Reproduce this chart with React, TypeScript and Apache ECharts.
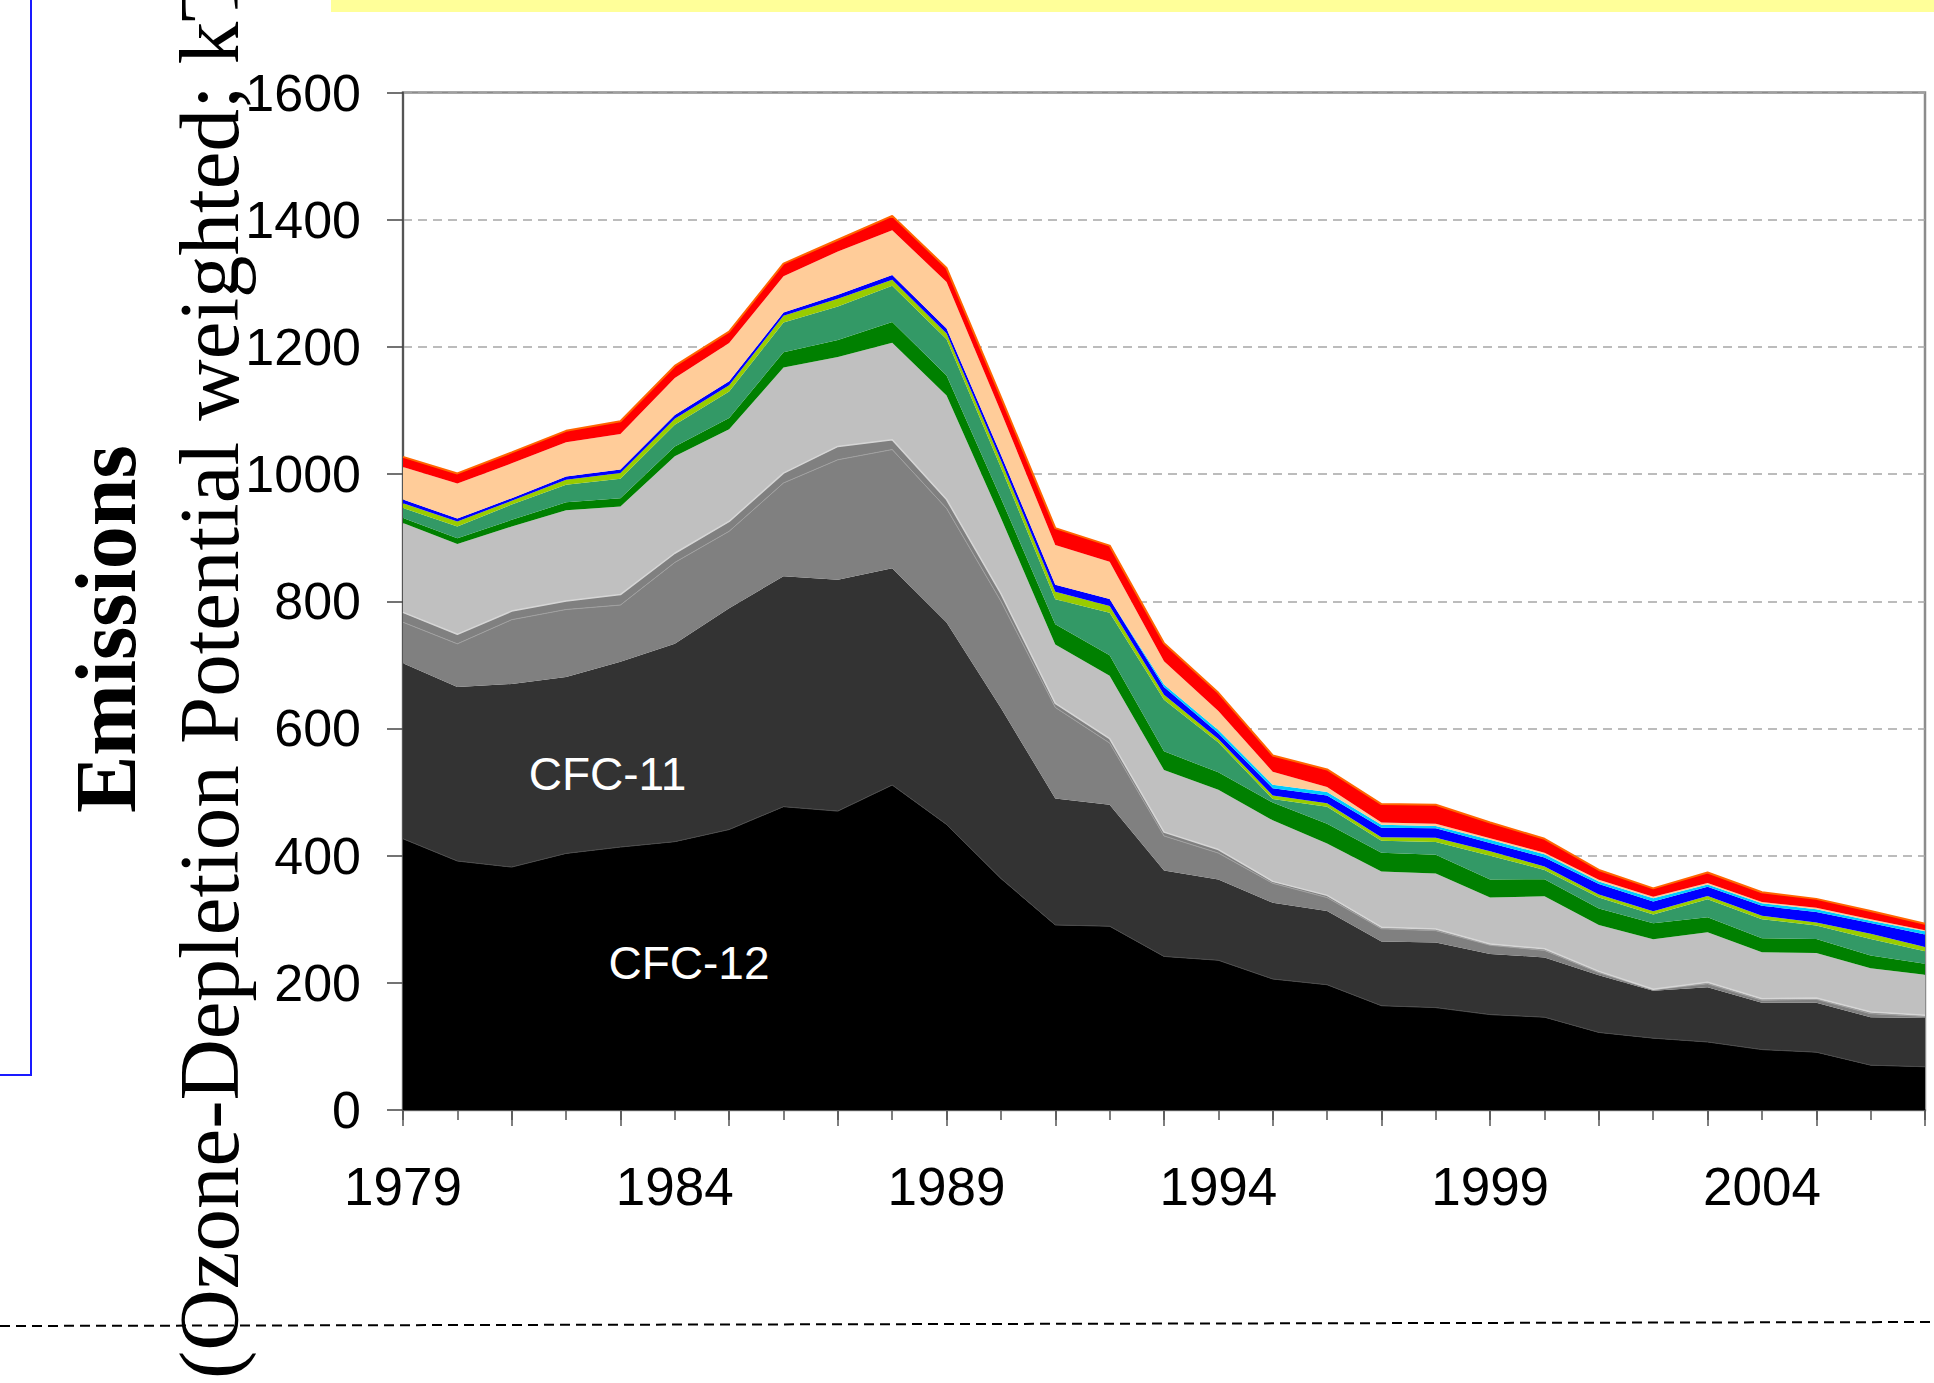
import React, { useEffect, useRef } from "react";
import * as echarts from "echarts";

const years = [
  "1979", "1980", "1981", "1982", "1983", "1984", "1985", "1986", "1987", "1988",
  "1989", "1990", "1991", "1992", "1993", "1994", "1995", "1996", "1997", "1998",
  "1999", "2000", "2001", "2002", "2003", "2004", "2005", "2006", "2007",
];

// ODP-weighted emissions (kT), stacked bottom to top
const cfc12 = [426.5, 391.5, 382, 403.5, 413.5, 422, 441, 477, 470, 511, 449, 364, 291, 289, 241.5, 235.5, 206, 197, 164, 161, 150, 146, 122, 113, 107, 95, 91, 70.5, 68];
const cfc11 = [276, 273.5, 288, 277.5, 291.5, 311, 348, 362.5, 364, 341, 317.5, 268, 199, 191, 135, 127, 120, 116, 101, 102.5, 95.5, 94, 90, 74.5, 86, 73.5, 77.5, 75.5, 76.5];
const cfc113 = [64.5, 68, 101, 106, 89, 128, 121, 146.5, 188.5, 186.5, 179.5, 168, 143, 97, 54.5, 41.5, 30.5, 21, 20, 18.5, 13.5, 11, 4, 1.5, 5.5, 4, 5.5, 5.5, 2.5];
const cfc114 = [15.5, 15, 13.5, 13.5, 16.5, 14.5, 15.5, 15.5, 21, 15.5, 14, 12, 6.5, 7, 6, 5.5, 3, 3.5, 2.5, 2.5, 2, 2.5, 2, 1, 2.5, 2.5, 2, 2.5, 2];
const ccl4 = [140.5, 142, 133, 142.5, 138.5, 152.5, 145, 166, 140.5, 152.5, 163.5, 119, 92.5, 99, 97.5, 94, 96, 81.5, 87.5, 87.5, 73, 82.5, 73, 78.5, 78.5, 73, 71, 69, 63.5];
const halon1301 = [8, 9, 10.5, 12.5, 13, 15.5, 17.5, 24, 27, 32.5, 31.5, 31, 32, 32, 29.5, 27.5, 28, 31, 29.5, 29.5, 28.5, 27, 26, 25, 23.5, 22, 22, 20, 17.5];
const halon1211 = [15.5, 18.5, 24, 27.5, 30.5, 34, 42, 47, 52.5, 57, 57, 48.5, 39, 67, 81, 47, 5.5, 27, 19, 20, 37.5, 14.5, 17, 14, 28.5, 30, 21, 26, 19.5];
const hcfc142b = [7.5, 8, 6, 8, 9, 9.5, 9.5, 10.5, 12, 9.5, 9, 11, 12, 10.5, 8, 5.5, 5.5, 5.5, 5.5, 6.5, 7, 5.5, 5, 5, 5, 5.5, 5, 8, 7];
const hcfc22 = [6, 4.5, 4, 5, 5.5, 6, 6.5, 5, 6.5, 7.5, 8, 9, 11, 11, 12, 9, 11.5, 12, 15, 15, 13, 14, 16.5, 15.5, 14.5, 15.5, 16.5, 17, 19.5];
const hcfc141b = [0, 0, 0, 0, 0, 0, 0, 0, 0, 0, 0, 0, 0, 0, 4, 5, 5.5, 5.5, 4.5, 3.5, 5, 5, 4, 5, 3.5, 4, 4, 3.5, 5];
const ch3ccl3 = [51, 55, 55, 54, 56, 58, 60, 57, 68, 70.5, 73, 67.5, 62.5, 58.5, 36.5, 30, 20.5, 8, 3.5, 3.5, 2.5, 2.5, 2.5, 2.5, 2.5, 2, 2.5, 2.5, 1.5];
const ch3br = [16, 16, 17, 18, 20, 19, 18, 20, 18.5, 22.5, 22, 23, 26.5, 25.5, 28.5, 28.5, 25.5, 27.5, 29, 30, 24.5, 22, 15.5, 13, 16.5, 15.5, 14, 13, 10.5];

const layers = [
  { name: "CFC-12", data: cfc12, color: "#000000", line: "#4a4a4a", lw: 1 },
  { name: "CFC-11", data: cfc11, color: "#333333", line: "#333333", lw: 0 },
  { name: "CFC-113", data: cfc113, color: "#808080", line: "#a0a0a0", lw: 1 },
  { name: "CFC-114/115", data: cfc114, color: "#808080", line: "#d6d6d6", lw: 1.5 },
  { name: "CCl4", data: ccl4, color: "#C0C0C0", line: "#C0C0C0", lw: 0 },
  { name: "Halon-1301", data: halon1301, color: "#008000", line: "#008000", lw: 0 },
  { name: "Halon-1211", data: halon1211, color: "#339966", line: "#339966", lw: 0 },
  { name: "HCFC-142b", data: hcfc142b, color: "#99CC00", line: "#99CC00", lw: 0 },
  { name: "HCFC-22", data: hcfc22, color: "#0000FF", line: "#0000FF", lw: 0 },
  { name: "HCFC-141b", data: hcfc141b, color: "#00CCFF", line: "#00CCFF", lw: 0 },
  { name: "CH3CCl3", data: ch3ccl3, color: "#FFCC99", line: "#FFCC99", lw: 0 },
  { name: "CH3Br", data: ch3br, color: "#FF0000", line: "#FF6600", lw: 2 },
];

export default function App() {
  const ref = useRef<HTMLDivElement>(null);
  useEffect(() => {
    const chart = echarts.init(ref.current as HTMLDivElement, null, { renderer: "svg" });
    const tickColor = "#555555";
    chart.setOption({
      animation: false,
      backgroundColor: "#ffffff",
      grid: {
        left: 403,
        top: 92.5,
        width: 1522,
        height: 1017.5,
        show: true,
        borderColor: "#8c8c8c",
        borderWidth: 2.5,
        backgroundColor: "transparent",
      },
      xAxis: [
        {
          type: "category",
          data: years,
          boundaryGap: false,
          axisLine: { show: true, lineStyle: { color: tickColor, width: 2 } },
          axisTick: { show: true, interval: 0, length: 10, lineStyle: { color: tickColor, width: 1.5 } },
          axisLabel: {
            interval: 4,
            fontSize: 53,
            fontFamily: '"Liberation Sans", Arial, sans-serif',
            color: "#000",
            margin: 50,
          },
          splitLine: { show: false },
        },
        {
          type: "category",
          data: years,
          boundaryGap: false,
          position: "bottom",
          axisLine: { show: false },
          axisTick: { show: true, interval: 1, length: 16, lineStyle: { color: tickColor, width: 1.5 } },
          axisLabel: { show: false },
          splitLine: { show: false },
        },
      ],
      yAxis: {
        type: "value",
        min: 0,
        max: 1600,
        interval: 200,
        axisLine: { show: true, lineStyle: { color: tickColor, width: 2 } },
        axisTick: { show: true, length: 16, lineStyle: { color: "#444", width: 1.5 } },
        axisLabel: {
          fontSize: 52,
          fontFamily: '"Liberation Sans", Arial, sans-serif',
          color: "#000",
          margin: 42,
          formatter: (v: number) => String(v),
        },
        splitLine: { show: true, lineStyle: { color: "#a6a6a6", width: 1.5, type: [9, 6] } },
      },
      series: layers.map((l) => ({
        name: l.name,
        type: "line",
        stack: "total",
        xAxisIndex: 0,
        data: l.data,
        symbol: "none",
        showSymbol: false,
        areaStyle: { color: l.color, opacity: 1 },
        lineStyle: { color: l.line, width: l.lw, opacity: l.lw > 0 ? 1 : 0 },
        emphasis: { disabled: true },
        silent: true,
      })),
      graphic: [
        { type: "rect", shape: { x: 331, y: 0, width: 1603, height: 12 }, style: { fill: "#FFFF99" }, z: 10 },
        {
          type: "polyline",
          shape: { points: [[31, -2], [31, 1075], [-2, 1075]] },
          style: { stroke: "#1a1aff", lineWidth: 2, fill: null },
          z: 10,
        },
        {
          type: "line",
          shape: { x1: 0, y1: 1326, x2: 1934, y2: 1322 },
          style: { stroke: "#000", lineWidth: 2, lineDash: [10, 6] },
          z: 10,
        },
        {
          type: "text",
          x: 106,
          y: 629,
          rotation: Math.PI / 2,
          style: {
            text: "Emissions",
            fontSize: 86,
            fontWeight: "bold",
            fontFamily: '"Liberation Serif", "Times New Roman", serif',
            fill: "#000",
            align: "center",
            verticalAlign: "middle",
          },
          z: 11,
        },
        {
          type: "text",
          x: 209,
          y: 1379,
          rotation: Math.PI / 2,
          style: {
            text: "(Ozone-Depletion Potential weighted; kT)",
            fontSize: 85,
            fontFamily: '"Liberation Serif", "Times New Roman", serif',
            fill: "#000",
            align: "left",
            verticalAlign: "middle",
          },
          z: 11,
        },
        {
          type: "text",
          x: 607.5,
          y: 774,
          style: {
            text: "CFC-11",
            fontSize: 46,
            fontFamily: '"Liberation Sans", Arial, sans-serif',
            fill: "#ffffff",
            align: "center",
            verticalAlign: "middle",
          },
          z: 11,
        },
        {
          type: "text",
          x: 689,
          y: 963,
          style: {
            text: "CFC-12",
            fontSize: 46,
            fontFamily: '"Liberation Sans", Arial, sans-serif',
            fill: "#ffffff",
            align: "center",
            verticalAlign: "middle",
          },
          z: 11,
        },
      ],
    });
    return () => chart.dispose();
  }, []);
  return (
    <div
      ref={ref}
      style={{ position: "absolute", left: 0, top: 0, width: 1934, height: 1383, background: "#fff" }}
    />
  );
}
